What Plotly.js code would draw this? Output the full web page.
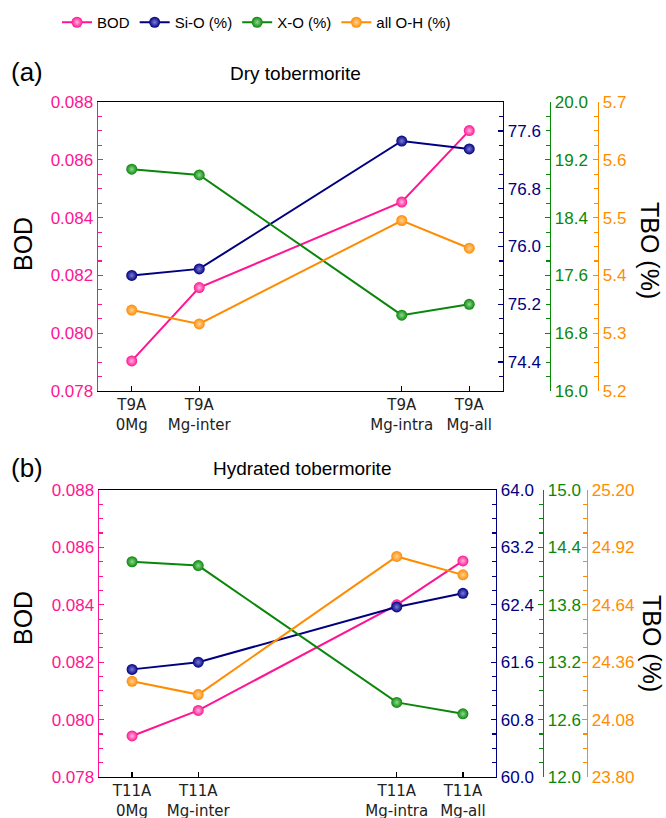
<!DOCTYPE html>
<html>
<head>
<meta charset="utf-8">
<script src="https://cdn.plot.ly/plotly-3.0.1.min.js"></script>
<style>
html,body{margin:0;padding:0;background:#fff;}
#chart{width:666px;height:818px;}
</style>
</head>
<body>
<div id="chart"></div>
<script>
// ---- data ----
var xPos = [1, 2, 5, 6];
var catsA = ['T9A<br>0Mg', 'T9A<br>Mg-inter', 'T9A<br>Mg-intra', 'T9A<br>Mg-all'];
var catsB = ['T11A<br>0Mg', 'T11A<br>Mg-inter', 'T11A<br>Mg-intra', 'T11A<br>Mg-all'];
var seriesNames = ['BOD', 'Si-O (%)', 'X-O (%)', 'all O-H (%)'];

var bodA = [0.07904, 0.08158, 0.08454, 0.08701];
var sioA = [75.60, 75.69, 77.46, 77.35];
var xoA  = [19.07, 18.99, 17.05, 17.20];
var ohA  = [5.340, 5.316, 5.495, 5.447];

var bodB = [0.07943, 0.08032, 0.08400, 0.08553];
var sioB = [61.50, 61.60, 62.37, 62.56];
var xoB  = [14.25, 14.21, 12.78, 12.66];
var ohB  = [24.267, 24.202, 24.876, 24.786];

// ---- styles ----
var PINK = '#FF1493', NAVY = '#000080', GREEN = '#0A870A', ORANGE = '#FF8C00';
var colors = [PINK, NAVY, GREEN, ORANGE];
var hl = ['#FFB8DC', '#7C7CD8', '#8FD88F', '#FFD29A'];
var W = 666, H = 818;
var px = function (x) { return x / W; };
var py = function (y) { return 1 - y / H; };
var FF = 'Liberation Sans, Arial, sans-serif';

function tr(x, y, i, xa, ya, show) {
  return {
    x: x, y: y, name: seriesNames[i], type: 'scatter', mode: 'lines+markers',
    xaxis: xa, yaxis: ya, showlegend: show,
    line: {color: colors[i], width: 2},
    marker: {size: 11, color: colors[i], gradient: {type: 'radial', color: hl[i]}, line: {width: 0}},
    hoverinfo: 'skip'
  };
}

var data = [
  tr(xPos, bodA, 0, 'x', 'y', true),
  tr(xPos, sioA, 1, 'x', 'y2', true),
  tr(xPos, xoA, 2, 'x', 'y3', true),
  tr(xPos, ohA, 3, 'x', 'y4', true),
  tr(xPos, bodB, 0, 'x2', 'y5', false),
  tr(xPos, sioB, 1, 'x2', 'y6', false),
  tr(xPos, xoB, 2, 'x2', 'y7', false),
  tr(xPos, ohB, 3, 'x2', 'y8', false)
];

var numFont = function (c) { return {family: FF, size: 17, color: c}; };

function yax(c, range, tick0, dtick, fmt, minorDt, extra) {
  var a = {
    range: range, tick0: tick0, dtick: dtick, tickformat: fmt,
    showgrid: false, zeroline: false, showline: true, linecolor: c, linewidth: 1.4,
    ticks: 'inside', ticklen: 5, tickwidth: 1.3, tickcolor: c,
    tickfont: numFont(c),
    minor: {dtick: minorDt, ticks: 'inside', ticklen: 4, tickwidth: 1.1, tickcolor: c, showgrid: false}
  };
  for (var k in extra) a[k] = extra[k];
  return a;
}

function xax(dom, anchor, cats) {
  return {
    domain: dom, anchor: anchor, range: [0.5, 6.5],
    tickmode: 'array', tickvals: xPos, ticktext: cats,
    ticks: 'inside', ticklen: 5, tickcolor: '#000', tickwidth: 1.3,
    showline: true, linecolor: '#000', linewidth: 1.4, mirror: true,
    showgrid: false, zeroline: false,
    tickfont: {family: 'DejaVu Sans, sans-serif', size: 15, color: '#222'}
  };
}

var domYA = [py(391), py(102)], domYB = [py(777), py(490)];

function ann(text, x, y, size, angle) {
  return {text: text, x: px(x), y: py(y), xref: 'paper', yref: 'paper', showarrow: false,
          xanchor: 'center', yanchor: 'middle', textangle: angle || 0,
          font: {family: FF, size: size, color: '#000'}};
}

var layout = {
  width: W, height: H,
  margin: {l: 0, r: 0, t: 0, b: 0},
  paper_bgcolor: '#fff', plot_bgcolor: 'rgba(0,0,0,0)',
  showlegend: true,
  legend: {orientation: 'h', x: px(57), xanchor: 'left', y: py(6), yanchor: 'top',
           font: {family: FF, size: 15, color: '#000'},
           itemwidth: 30, tracegroupgap: 0, bgcolor: 'rgba(0,0,0,0)'},
  xaxis: xax([px(98), px(503)], 'y', catsA),
  xaxis2: xax([px(99), px(496)], 'y5', catsB),

  yaxis: yax(PINK, [0.078, 0.088], 0.078, 0.002, '.3f', 0.0005, {domain: domYA, anchor: 'x'}),
  yaxis2: yax(NAVY, [74, 78], 74.4, 0.8, '.1f', 0.2, {overlaying: 'y', side: 'right', anchor: 'x'}),
  yaxis3: yax(GREEN, [16, 20], 16, 0.8, '.1f', 0.2, {overlaying: 'y', side: 'right', anchor: 'free', position: px(550)}),
  yaxis4: yax(ORANGE, [5.2, 5.7], 5.2, 0.1, '.1f', 0.025, {overlaying: 'y', side: 'right', anchor: 'free', position: px(598)}),

  yaxis5: yax(PINK, [0.078, 0.088], 0.078, 0.002, '.3f', 0.0005, {domain: domYB, anchor: 'x2'}),
  yaxis6: yax(NAVY, [60, 64], 60, 0.8, '.1f', 0.2, {overlaying: 'y5', side: 'right', anchor: 'x2'}),
  yaxis7: yax(GREEN, [12, 15], 12, 0.6, '.1f', 0.15, {overlaying: 'y5', side: 'right', anchor: 'free', position: px(543)}),
  yaxis8: yax(ORANGE, [23.8, 25.2], 23.8, 0.28, '.2f', 0.07, {overlaying: 'y5', side: 'right', anchor: 'free', position: px(587)}),

  annotations: [
    ann('(a)', 27, 72, 26),
    ann('(b)', 27, 468, 26),
    ann('Dry tobermorite', 295, 73, 19),
    ann('Hydrated tobermorite', 302, 468, 19),
    ann('BOD', 23, 244, 25, -90),
    ann('BOD', 23, 618, 25, -90),
    ann('TBO (%)', 650, 250, 25, 90),
    ann('TBO (%)', 652, 643, 25, 90)
  ]
};

Plotly.newPlot('chart', data, layout, {displayModeBar: false, staticPlot: true});
</script>
</body>
</html>
